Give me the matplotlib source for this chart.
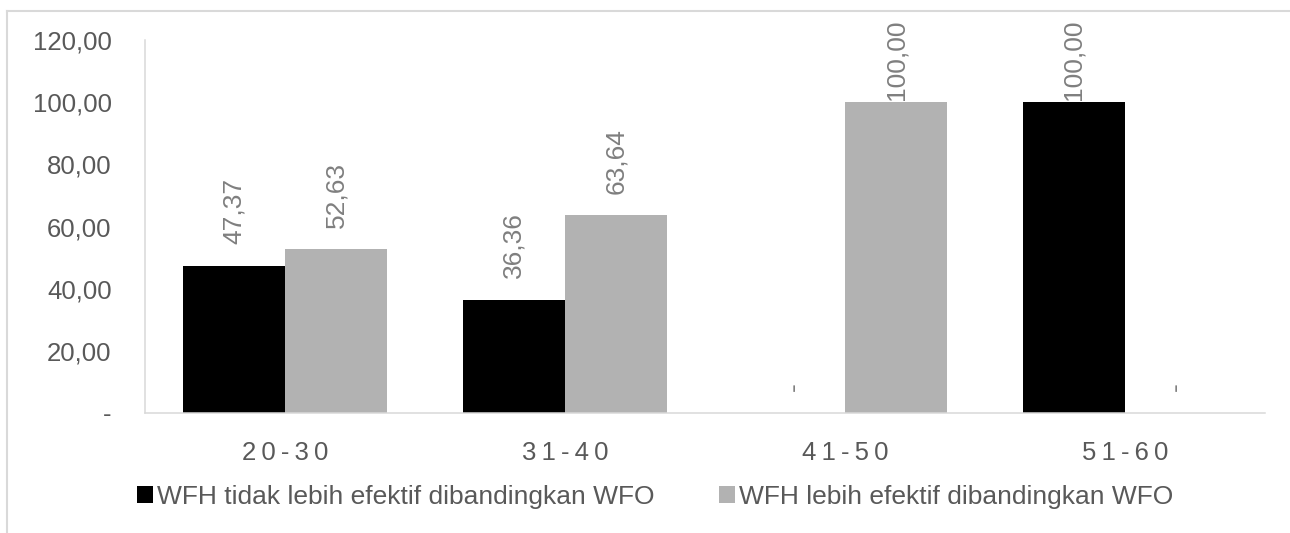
import matplotlib
matplotlib.use("Agg")
import matplotlib.pyplot as plt
from matplotlib.lines import Line2D
import numpy as np

plt.rcParams['font.family'] = ['Liberation Sans', 'DejaVu Sans']

categories = ["20-30", "31-40", "41-50", "51-60"]
series_names = ["WFH tidak lebih efektif dibandingkan WFO",
                "WFH lebih efektif dibandingkan WFO"]
tidak_efektif = [47.37, 36.36, 0.0, 100.00]
efektif = [52.63, 63.64, 100.00, 0.0]
y_ticks = [0, 20, 40, 60, 80, 100, 120]

colors = ["#000000", "#b2b2b2"]
W, H = 1290, 533
fig = plt.figure(figsize=(W / 100, H / 100), dpi=100)
ax = fig.add_axes([145 / W, 1 - 413 / H, (1265 - 145) / W, (413 - 40) / H])

x = np.arange(len(categories))
bw = 0.365
b1 = ax.bar(x - bw / 2, tidak_efektif, bw, color=colors[0], label=series_names[0])
b2 = ax.bar(x + bw / 2, efektif, bw, color=colors[1], label=series_names[1])


def fmt(v):
    if v == 0:
        return "-"
    return f"{v:.2f}".replace(".", ",")


labels = []
for bars, vals in ((b1, tidak_efektif), (b2, efektif)):
    for rect, v in zip(bars, vals):
        t = ax.annotate(fmt(v), (rect.get_x() + rect.get_width() / 2, rect.get_height()),
                        xytext=(0, 15.5), textcoords="offset points",
                        rotation=90, ha="center", va="bottom",
                        fontsize=19, color="#7f7f7f")
        labels.append(t)

ax.set_xlim(-0.5, len(categories) - 0.5)
ax.set_ylim(0, 120)
ax.set_yticks(y_ticks)
ax.set_yticklabels([fmt(v) for v in y_ticks])
ax.set_xticks(x)
ax.set_xticklabels(["\u2009".join(c) for c in categories])
ax.tick_params(axis="y", length=0, pad=24, labelsize=18.5, labelcolor="#595959")
ax.tick_params(axis="x", length=0, pad=20, labelsize=18.5, labelcolor="#595959")

for s in ("top", "right"):
    ax.spines[s].set_visible(False)
for s in ("left", "bottom"):
    ax.spines[s].set_color("#d9d9d9")
    ax.spines[s].set_linewidth(1.1)

leg = fig.legend(handles=[b1, b2], labels=series_names, ncol=2, loc="center",
                 bbox_to_anchor=(655 / W, 1 - 497 / H), frameon=False,
                 fontsize=19, handlelength=0.6, handleheight=0.6,
                 handletextpad=0.15, columnspacing=2.45, labelcolor="#595959")

# outer chart border (top and left visible)
fig.add_artist(Line2D([7 / W, 7 / W], [0, 1 - 10.5 / H], transform=fig.transFigure,
                      color="#d9d9d9", lw=1.5))
fig.add_artist(Line2D([7 / W, 1], [1 - 10.5 / H, 1 - 10.5 / H], transform=fig.transFigure,
                      color="#d9d9d9", lw=1.5))

# keep data labels inside the chart area (as the spreadsheet does)
fig.canvas.draw()
renderer = fig.canvas.get_renderer()
top_limit = H - 19
for t in labels:
    ext = t.get_window_extent(renderer)
    if ext.y1 > top_limit:
        dx, dy = t.xyann
        t.xyann = (dx, dy - (ext.y1 - top_limit) * 72 / fig.dpi)

fig.savefig("out.png", dpi=100)
